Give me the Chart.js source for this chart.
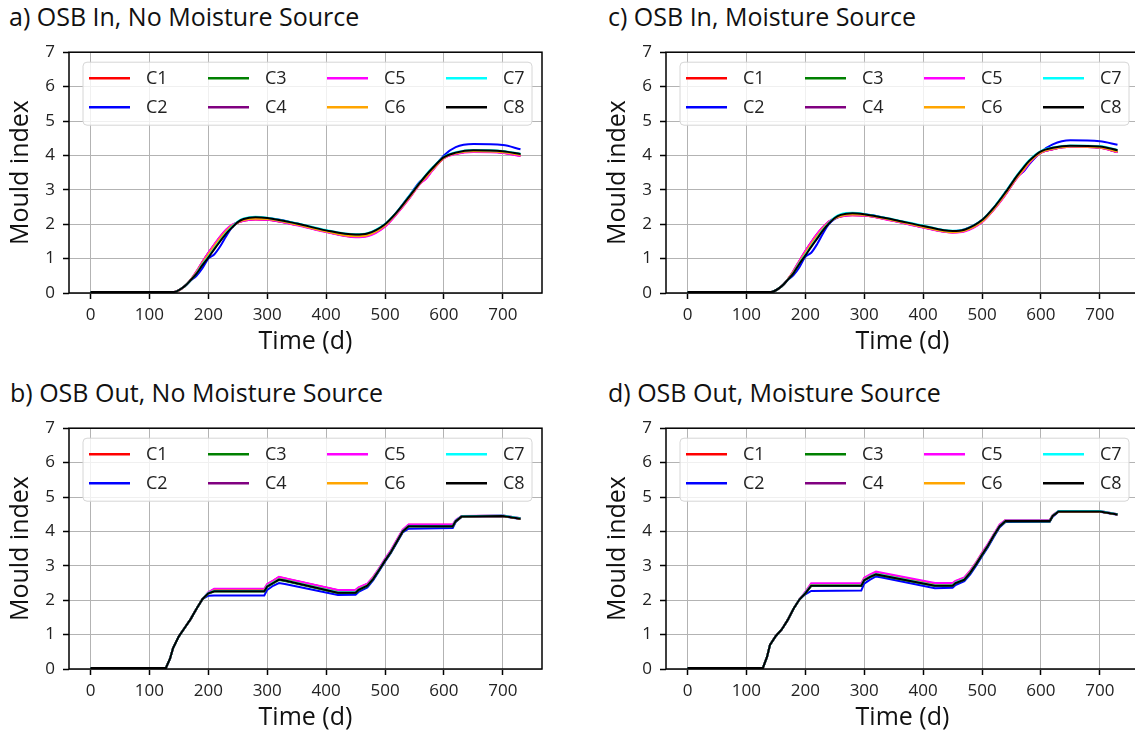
<!DOCTYPE html>
<html>
<head>
<meta charset="utf-8">
<title>Mould index</title>
<script src="https://cdn.jsdelivr.net/npm/chart.js@4.4.0/dist/chart.umd.min.js"></script>
<style>
  html, body { margin: 0; padding: 0; background: #fff; }
  #page { position: relative; width: 1135px; height: 733px; overflow: hidden; font-family: 'Open Sans', sans-serif; }
  .panel-title { position: absolute; font-size: 25px; line-height: 25px; color: #111; white-space: nowrap; }
  canvas { position: absolute; }
</style>
</head>
<body>
<div id="page">
  <div class="panel-title" style="left:9px; top:4px;">a) OSB In, No Moisture Source</div>
  <div class="panel-title" style="left:608px; top:4px;">c) OSB In, Moisture Source</div>
  <div class="panel-title" style="left:10px; top:380px;">b) OSB Out, No Moisture Source</div>
  <div class="panel-title" style="left:608px; top:380px;">d) OSB Out, Moisture Source</div>
  <canvas id="chartA" width="560" height="323" style="left:0px; top:34px;"></canvas>
  <canvas id="chartC" width="560" height="323" style="left:597px; top:34px;"></canvas>
  <canvas id="chartB" width="560" height="323" style="left:0px; top:410px;"></canvas>
  <canvas id="chartD" width="560" height="323" style="left:597px; top:410px;"></canvas>
</div>
<script>
// Achsen
let xTicks = [0, 100, 200, 300, 400, 500, 600, 700];
let yTicks = [0, 1, 2, 3, 4, 5, 6, 7];
let seriesLabels = ['C1', 'C2', 'C3', 'C4', 'C5', 'C6', 'C7', 'C8'];
let seriesColors = ['#ff0000', '#0000ff', '#008000', '#800080', '#ff00ff', '#ffa500', '#00ffff', '#000000'];

// Zeitpunkte (Tage)
let daysIn = [0, 142, 160, 170, 180, 190, 200, 210, 220, 230, 240, 250, 260, 280, 300, 350, 400, 450, 470, 500, 520, 540, 560, 570, 580, 600, 620, 650, 700, 730];
let daysOut = [0, 128, 135, 140, 150, 160, 170, 180, 190, 200, 210, 295, 300, 310, 320, 330, 420, 450, 455, 470, 480, 490, 500, 510, 520, 530, 540, 615, 620, 630, 700, 730];

// a) OSB In, No Moisture Source
let aC1 = [0.03, 0.03, 0.20, 0.38, 0.62, 0.90, 1.16, 1.40, 1.63, 1.83, 1.97, 2.05, 2.10, 2.14, 2.13, 1.98, 1.78, 1.63, 1.66, 1.94, 2.31, 2.73, 3.19, 3.34, 3.56, 3.92, 4.05, 4.11, 4.08, 3.99];
let aC2 = [0.03, 0.03, 0.20, 0.36, 0.50, 0.72, 1.00, 1.12, 1.35, 1.64, 1.90, 2.05, 2.12, 2.17, 2.17, 2.02, 1.80, 1.67, 1.72, 1.98, 2.35, 2.80, 3.25, 3.36, 3.58, 4.00, 4.24, 4.33, 4.30, 4.18];
let aC3 = [0.03, 0.03, 0.20, 0.37, 0.57, 0.83, 1.06, 1.30, 1.53, 1.74, 1.91, 2.06, 2.14, 2.19, 2.17, 2.01, 1.81, 1.69, 1.72, 1.99, 2.34, 2.77, 3.21, 3.42, 3.61, 3.94, 4.07, 4.14, 4.11, 4.03];
let aC4 = [0.03, 0.03, 0.20, 0.38, 0.61, 0.89, 1.15, 1.39, 1.62, 1.82, 1.96, 2.05, 2.11, 2.15, 2.14, 1.98, 1.78, 1.64, 1.67, 1.95, 2.32, 2.74, 3.20, 3.36, 3.57, 3.93, 4.05, 4.11, 4.08, 4.00];
let aC5 = [0.03, 0.03, 0.20, 0.38, 0.63, 0.91, 1.17, 1.41, 1.64, 1.84, 1.98, 2.05, 2.10, 2.14, 2.13, 1.97, 1.77, 1.62, 1.65, 1.93, 2.30, 2.72, 3.18, 3.33, 3.55, 3.92, 4.04, 4.10, 4.07, 3.98];
let aC6 = [0.03, 0.03, 0.20, 0.38, 0.60, 0.87, 1.12, 1.36, 1.59, 1.79, 1.95, 2.05, 2.12, 2.16, 2.15, 1.99, 1.79, 1.65, 1.68, 1.96, 2.33, 2.75, 3.20, 3.38, 3.58, 3.93, 4.06, 4.12, 4.09, 4.01];
let aC7 = [0.03, 0.03, 0.20, 0.37, 0.57, 0.83, 1.05, 1.29, 1.52, 1.74, 1.92, 2.08, 2.17, 2.22, 2.19, 2.03, 1.83, 1.71, 1.74, 2.01, 2.36, 2.80, 3.24, 3.45, 3.64, 3.96, 4.09, 4.16, 4.13, 4.05];
let aC8 = [0.03, 0.03, 0.20, 0.37, 0.56, 0.81, 1.03, 1.27, 1.50, 1.72, 1.90, 2.06, 2.15, 2.20, 2.18, 2.02, 1.82, 1.70, 1.73, 2.00, 2.35, 2.78, 3.22, 3.43, 3.62, 3.95, 4.08, 4.15, 4.12, 4.04];

// c) OSB In, Moisture Source
let cC1 = [0.03, 0.03, 0.20, 0.39, 0.64, 0.93, 1.21, 1.47, 1.71, 1.91, 2.08, 2.17, 2.22, 2.26, 2.25, 2.10, 1.91, 1.76, 1.80, 2.07, 2.43, 2.87, 3.37, 3.55, 3.78, 4.08, 4.18, 4.25, 4.22, 4.10];
let cC2 = [0.03, 0.03, 0.20, 0.37, 0.52, 0.75, 1.05, 1.17, 1.42, 1.73, 2.00, 2.15, 2.23, 2.28, 2.28, 2.12, 1.93, 1.80, 1.85, 2.12, 2.48, 2.93, 3.40, 3.52, 3.74, 4.10, 4.32, 4.44, 4.41, 4.31];
let cC3 = [0.03, 0.03, 0.20, 0.38, 0.58, 0.86, 1.11, 1.37, 1.61, 1.84, 2.03, 2.18, 2.26, 2.31, 2.28, 2.12, 1.94, 1.79, 1.83, 2.11, 2.47, 2.92, 3.41, 3.62, 3.83, 4.11, 4.21, 4.27, 4.25, 4.14];
let cC4 = [0.03, 0.03, 0.20, 0.39, 0.63, 0.92, 1.20, 1.46, 1.70, 1.90, 2.07, 2.17, 2.23, 2.27, 2.26, 2.10, 1.91, 1.77, 1.80, 2.07, 2.43, 2.87, 3.37, 3.56, 3.78, 4.08, 4.18, 4.25, 4.22, 4.10];
let cC5 = [0.03, 0.03, 0.20, 0.39, 0.65, 0.94, 1.22, 1.48, 1.72, 1.92, 2.08, 2.17, 2.22, 2.26, 2.25, 2.09, 1.90, 1.76, 1.79, 2.06, 2.42, 2.86, 3.36, 3.54, 3.77, 4.08, 4.18, 4.25, 4.22, 4.09];
let cC6 = [0.03, 0.03, 0.20, 0.39, 0.62, 0.90, 1.16, 1.42, 1.66, 1.88, 2.05, 2.17, 2.24, 2.28, 2.27, 2.11, 1.92, 1.77, 1.81, 2.08, 2.44, 2.89, 3.38, 3.58, 3.80, 4.09, 4.19, 4.26, 4.23, 4.11];
let cC7 = [0.03, 0.03, 0.20, 0.38, 0.59, 0.87, 1.11, 1.36, 1.60, 1.84, 2.04, 2.20, 2.29, 2.33, 2.30, 2.14, 1.96, 1.81, 1.85, 2.13, 2.49, 2.95, 3.44, 3.66, 3.86, 4.13, 4.23, 4.29, 4.27, 4.16];
let cC8 = [0.03, 0.03, 0.20, 0.38, 0.58, 0.85, 1.09, 1.34, 1.58, 1.82, 2.02, 2.18, 2.27, 2.32, 2.29, 2.13, 1.95, 1.80, 1.84, 2.12, 2.48, 2.93, 3.42, 3.64, 3.84, 4.12, 4.22, 4.28, 4.26, 4.15];

// b) OSB Out, No Moisture Source
let bC1 = [0.03, 0.03, 0.30, 0.60, 0.95, 1.20, 1.45, 1.75, 2.03, 2.22, 2.32, 2.32, 2.46, 2.56, 2.67, 2.63, 2.29, 2.29, 2.36, 2.47, 2.67, 2.92, 3.19, 3.44, 3.74, 4.04, 4.19, 4.19, 4.32, 4.44, 4.46, 4.38];
let bC2 = [0.03, 0.03, 0.30, 0.60, 0.95, 1.20, 1.45, 1.75, 2.03, 2.13, 2.14, 2.14, 2.30, 2.42, 2.50, 2.47, 2.15, 2.16, 2.24, 2.37, 2.58, 2.85, 3.12, 3.37, 3.67, 3.97, 4.08, 4.10, 4.27, 4.42, 4.44, 4.36];
let bC3 = [0.03, 0.03, 0.30, 0.60, 0.95, 1.20, 1.45, 1.75, 2.03, 2.19, 2.25, 2.25, 2.39, 2.49, 2.59, 2.56, 2.21, 2.21, 2.29, 2.41, 2.61, 2.87, 3.14, 3.39, 3.69, 3.99, 4.14, 4.14, 4.29, 4.43, 4.45, 4.37];
let bC4 = [0.03, 0.03, 0.30, 0.60, 0.95, 1.20, 1.45, 1.75, 2.03, 2.21, 2.29, 2.29, 2.43, 2.53, 2.64, 2.60, 2.26, 2.26, 2.33, 2.45, 2.65, 2.90, 3.17, 3.42, 3.72, 4.02, 4.17, 4.17, 4.31, 4.44, 4.45, 4.37];
let bC5 = [0.03, 0.03, 0.30, 0.60, 0.95, 1.20, 1.45, 1.75, 2.03, 2.23, 2.33, 2.33, 2.47, 2.57, 2.68, 2.64, 2.30, 2.30, 2.37, 2.48, 2.68, 2.93, 3.20, 3.45, 3.75, 4.05, 4.20, 4.20, 4.33, 4.45, 4.46, 4.38];
let bC6 = [0.03, 0.03, 0.30, 0.60, 0.95, 1.20, 1.45, 1.75, 2.03, 2.20, 2.28, 2.28, 2.42, 2.52, 2.62, 2.59, 2.24, 2.24, 2.32, 2.44, 2.64, 2.89, 3.16, 3.41, 3.71, 4.01, 4.16, 4.16, 4.30, 4.43, 4.45, 4.37];
let bC7 = [0.03, 0.03, 0.30, 0.60, 0.95, 1.20, 1.45, 1.75, 2.03, 2.21, 2.27, 2.27, 2.41, 2.51, 2.61, 2.58, 2.23, 2.23, 2.31, 2.43, 2.63, 2.89, 3.16, 3.41, 3.71, 4.01, 4.16, 4.16, 4.31, 4.44, 4.46, 4.38];
let bC8 = [0.03, 0.03, 0.30, 0.60, 0.95, 1.20, 1.45, 1.75, 2.03, 2.20, 2.26, 2.26, 2.40, 2.50, 2.60, 2.57, 2.22, 2.22, 2.30, 2.42, 2.62, 2.88, 3.15, 3.40, 3.70, 4.00, 4.15, 4.15, 4.30, 4.43, 4.45, 4.37];

// d) OSB Out, Moisture Source
let dC1 = [0.03, 0.03, 0.35, 0.70, 0.96, 1.15, 1.42, 1.75, 2.02, 2.23, 2.47, 2.47, 2.63, 2.73, 2.81, 2.78, 2.48, 2.48, 2.55, 2.65, 2.85, 3.09, 3.37, 3.62, 3.91, 4.19, 4.33, 4.33, 4.47, 4.59, 4.59, 4.50];
let dC2 = [0.03, 0.03, 0.35, 0.70, 0.96, 1.15, 1.42, 1.75, 2.02, 2.17, 2.27, 2.28, 2.48, 2.60, 2.69, 2.66, 2.35, 2.36, 2.44, 2.55, 2.75, 3.00, 3.28, 3.54, 3.84, 4.12, 4.27, 4.28, 4.43, 4.57, 4.57, 4.48];
let dC3 = [0.03, 0.03, 0.35, 0.70, 0.96, 1.15, 1.42, 1.75, 2.02, 2.19, 2.41, 2.41, 2.57, 2.67, 2.74, 2.71, 2.41, 2.41, 2.49, 2.59, 2.79, 3.04, 3.31, 3.57, 3.87, 4.14, 4.29, 4.29, 4.45, 4.58, 4.58, 4.49];
let dC4 = [0.03, 0.03, 0.35, 0.70, 0.96, 1.15, 1.42, 1.75, 2.02, 2.22, 2.45, 2.45, 2.61, 2.71, 2.79, 2.76, 2.46, 2.46, 2.53, 2.63, 2.83, 3.08, 3.35, 3.60, 3.90, 4.17, 4.31, 4.31, 4.46, 4.58, 4.58, 4.49];
let dC5 = [0.03, 0.03, 0.35, 0.70, 0.96, 1.15, 1.42, 1.75, 2.02, 2.24, 2.49, 2.49, 2.65, 2.75, 2.83, 2.80, 2.50, 2.50, 2.56, 2.66, 2.86, 3.10, 3.38, 3.63, 3.92, 4.20, 4.33, 4.33, 4.47, 4.59, 4.59, 4.50];
let dC6 = [0.03, 0.03, 0.35, 0.70, 0.96, 1.15, 1.42, 1.75, 2.02, 2.21, 2.44, 2.44, 2.60, 2.70, 2.77, 2.74, 2.44, 2.44, 2.52, 2.62, 2.82, 3.07, 3.34, 3.59, 3.89, 4.16, 4.31, 4.31, 4.46, 4.58, 4.58, 4.49];
let dC7 = [0.03, 0.03, 0.35, 0.70, 0.96, 1.15, 1.42, 1.75, 2.02, 2.21, 2.43, 2.43, 2.59, 2.69, 2.76, 2.73, 2.43, 2.43, 2.51, 2.61, 2.81, 3.06, 3.33, 3.59, 3.89, 4.16, 4.31, 4.31, 4.46, 4.59, 4.59, 4.50];
let dC8 = [0.03, 0.03, 0.35, 0.70, 0.96, 1.15, 1.42, 1.75, 2.02, 2.20, 2.42, 2.42, 2.58, 2.68, 2.75, 2.72, 2.42, 2.42, 2.50, 2.60, 2.80, 3.05, 3.32, 3.58, 3.88, 4.15, 4.30, 4.30, 4.45, 4.58, 4.58, 4.49];

let fontFamily = "'Open Sans', sans-serif";

// Rahmen um die Plotfläche (oben und rechts inklusive)
let framePlugin = {
  id: 'frame',
  afterDatasetsDraw(chart) {
    let { ctx, chartArea: a } = chart;
    ctx.save();
    ctx.strokeStyle = '#000';
    ctx.lineWidth = 1.5;
    ctx.strokeRect(a.left, a.top, a.right - a.left, a.bottom - a.top);
    ctx.restore();
  }
};

// Legende im Plot, 2 Zeilen x 4 Spalten, spaltenweise gefüllt
let legendPlugin = {
  id: 'legendBox',
  afterDraw(chart) {
    let { ctx, chartArea: a } = chart;
    let bx = a.left + 14, by = a.top + 10, bw = 449, bh = 63;
    ctx.save();
    ctx.beginPath();
    ctx.roundRect(bx, by, bw, bh, 4);
    ctx.fillStyle = 'rgba(255,255,255,0.8)';
    ctx.fill();
    ctx.strokeStyle = '#d6d6d6';
    ctx.lineWidth = 1;
    ctx.stroke();
    ctx.font = '18px ' + fontFamily;
    ctx.textBaseline = 'middle';
    chart.data.datasets.forEach((ds, i) => {
      let col = Math.floor(i / 2), row = i % 2;
      let x0 = bx + 6 + col * 119, y0 = by + 16 + row * 29;
      ctx.strokeStyle = ds.borderColor;
      ctx.lineWidth = 2.5;
      ctx.beginPath();
      ctx.moveTo(x0, y0);
      ctx.lineTo(x0 + 41, y0);
      ctx.stroke();
      ctx.fillStyle = '#222';
      ctx.fillText(ds.label, x0 + 57, y0 + 1);
    });
    ctx.restore();
  }
};

function makeDatasets(days, series) {
  return series.map((values, i) => ({
    label: seriesLabels[i],
    data: days.map((d, k) => ({ x: d, y: values[k] })),
    borderColor: seriesColors[i],
    borderWidth: 2,
    pointRadius: 0,
    fill: false,
    order: series.length - i
  }));
}

function makeChart(canvasId, days, series, smooth) {
  let ctx = document.getElementById(canvasId).getContext('2d');
  return new Chart(ctx, {
    type: 'line',
    data: { datasets: makeDatasets(days, series) },
    options: {
      responsive: false,
      animation: false,
      events: [],
      cubicInterpolationMode: smooth ? 'monotone' : 'default',
      tension: 0,
      layout: { padding: { top: 10, right: 18, left: 0, bottom: 0 } },
      plugins: { legend: { display: false }, tooltip: { enabled: false } },
      scales: {
        x: {
          type: 'linear',
          min: -36.5,
          max: 766.5,
          afterBuildTicks: s => { s.ticks = xTicks.map(v => ({ value: v })); },
          afterFit: s => { s.height = 64; },
          grid: { color: '#b3b3b3', lineWidth: 1, tickLength: 6, tickColor: '#000', tickWidth: 1.5 },
          border: { display: false },
          ticks: { color: '#222', font: { family: fontFamily, size: 17 }, padding: 6, maxRotation: 0 },
          title: { display: true, text: 'Time (d)', color: '#111', font: { family: fontFamily, size: 25 }, padding: { top: 0, bottom: 0 } }
        },
        y: {
          min: 0,
          max: 7,
          afterBuildTicks: s => { s.ticks = yTicks.map(v => ({ value: v })); },
          afterFit: s => { s.width = 69; },
          grid: { color: '#b3b3b3', lineWidth: 1, tickLength: 6, tickColor: '#000', tickWidth: 1.5 },
          border: { display: false },
          ticks: { color: '#222', font: { family: fontFamily, size: 17 }, padding: 8 },
          title: { display: true, text: 'Mould index', color: '#111', font: { family: fontFamily, size: 25 }, padding: { top: 6, bottom: 0 } }
        }
      }
    },
    plugins: [framePlugin, legendPlugin]
  });
}

makeChart('chartA', daysIn, [aC1, aC2, aC3, aC4, aC5, aC6, aC7, aC8], true);
makeChart('chartC', daysIn, [cC1, cC2, cC3, cC4, cC5, cC6, cC7, cC8], true);
makeChart('chartB', daysOut, [bC1, bC2, bC3, bC4, bC5, bC6, bC7, bC8], false);
makeChart('chartD', daysOut, [dC1, dC2, dC3, dC4, dC5, dC6, dC7, dC8], false);
</script>
</body>
</html>
